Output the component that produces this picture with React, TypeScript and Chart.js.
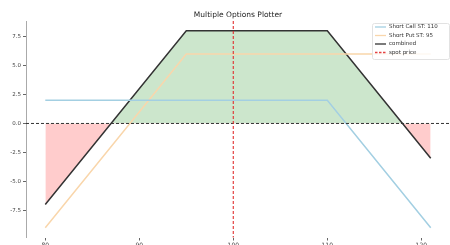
import React, { useEffect, useRef } from "react";
import { Chart, registerables } from "chart.js";

Chart.register(...registerables);

// ---- data ----
const prices = [80, 95, 110, 121];
const shortCall = [2, 2, 2, -9];
const shortPut = [-9, 6, 6, 6];
const combined = [-7, 8, 8, -3];
const spotPrice = 100;
const xTicks = [80, 90, 100, 110, 120];
const yTicks = [-7.5, -5, -2.5, 0, 2.5, 5, 7.5];
const seriesNames = ["Short Call ST: 110", "Short Put ST: 95", "combined", "spot price"];
const titleText = "Multiple Options Plotter";

const FONT = "'DejaVu Sans', sans-serif";
const SPOT_COLOR = "rgba(225,45,45,0.9)";

const overlayPlugin = {
  id: "overlay",
  afterDatasetsDraw(chart: any) {
    const { ctx, chartArea, scales } = chart;
    const y0 = scales.y.getPixelForValue(0);
    const xs = scales.x.getPixelForValue(spotPrice);
    ctx.save();
    // zero line
    ctx.strokeStyle = "#333";
    ctx.lineWidth = 1;
    ctx.setLineDash([3, 2]);
    ctx.beginPath();
    ctx.moveTo(chartArea.left, y0);
    ctx.lineTo(chartArea.right, y0);
    ctx.stroke();
    // spot line
    ctx.strokeStyle = SPOT_COLOR;
    ctx.lineWidth = 1.2;
    ctx.beginPath();
    ctx.moveTo(xs, chartArea.top);
    ctx.lineTo(xs, chartArea.bottom);
    ctx.stroke();
    ctx.restore();
  },
  afterDraw(chart: any) {
    const { ctx, chartArea } = chart;
    ctx.save();
    // title
    ctx.fillStyle = "#222";
    ctx.font = `7.5px ${FONT}`;
    ctx.textAlign = "center";
    ctx.textBaseline = "middle";
    ctx.fillText(titleText, (chartArea.left + chartArea.right) / 2, 15);
    // legend
    const bx = 372, by = 23, bw = 77, bh = 36;
    ctx.fillStyle = "rgba(255,255,255,0.85)";
    ctx.strokeStyle = "#e2e2e2";
    ctx.lineWidth = 1;
    ctx.setLineDash([]);
    ctx.beginPath();
    (ctx as any).roundRect(bx + 0.5, by + 0.5, bw, bh, 2);
    ctx.fill();
    ctx.stroke();
    const colors = ["#a3cfe2", "#f9d6ab", "#333333", SPOT_COLOR];
    ctx.font = `5.5px ${FONT}`;
    ctx.textAlign = "left";
    ctx.textBaseline = "middle";
    seriesNames.forEach((name, i) => {
      const ry = by + 4 + i * 8.5;
      ctx.strokeStyle = colors[i];
      ctx.lineWidth = 1.3;
      ctx.setLineDash(i === 3 ? [2.5, 1.5] : []);
      ctx.beginPath();
      ctx.moveTo(bx + 3, ry);
      ctx.lineTo(bx + 14, ry);
      ctx.stroke();
      ctx.fillStyle = "#333";
      ctx.fillText(name, bx + 17, ry);
    });
    ctx.restore();
  },
};

export default function App() {
  const ref = useRef<HTMLCanvasElement>(null);
  useEffect(() => {
    document.body.style.margin = "0";
    const pts = (vals: number[]) => prices.map((p, i) => ({ x: p, y: vals[i] }));
    const chart = new Chart(ref.current!, {
      type: "line",
      data: {
        datasets: [
          {
            label: seriesNames[0],
            data: pts(shortCall),
            borderColor: "#a3cfe2",
            borderWidth: 1.5,
            pointRadius: 0,
            fill: false,
          },
          {
            label: seriesNames[1],
            data: pts(shortPut),
            borderColor: "#f9d6ab",
            borderWidth: 1.5,
            pointRadius: 0,
            fill: false,
          },
          {
            label: seriesNames[2],
            data: pts(combined),
            borderColor: "#333333",
            borderWidth: 1.5,
            pointRadius: 0,
            fill: {
              target: { value: 0 },
              above: "rgba(0,128,0,0.2)",
              below: "rgba(255,0,0,0.2)",
            },
          },
        ],
      },
      options: {
        animation: false,
        responsive: false,
        devicePixelRatio: 1,
        layout: { padding: { top: 21, right: 0, left: 0, bottom: 0 } },
        plugins: { legend: { display: false }, title: { display: false }, tooltip: { enabled: false } },
        scales: {
          x: {
            type: "linear",
            min: 77.95,
            max: 123.05,
            afterBuildTicks: (s: any) => {
              s.ticks = xTicks.map((v) => ({ value: v }));
            },
            afterFit: (s: any) => {
              s.height = 7.5;
            },
            border: { display: false },
            grid: { drawOnChartArea: false, tickLength: 3, color: "#666" },
            ticks: { font: { family: FONT, size: 6 }, color: "#444", padding: 1, maxRotation: 0 },
          },
          y: {
            type: "linear",
            min: -9.85,
            max: 8.85,
            afterBuildTicks: (s: any) => {
              s.ticks = yTicks.map((v) => ({ value: v }));
            },
            afterFit: (s: any) => {
              s.width = 26;
            },
            border: { display: true, color: "#aaa" },
            grid: { drawOnChartArea: false, tickLength: 3, color: "#666" },
            ticks: {
              font: { family: FONT, size: 5.5 },
              color: "#444",
              padding: 2,
              callback: (v: any) => Number(v).toFixed(1),
            },
          },
        },
      },
      plugins: [overlayPlugin],
    });
    return () => chart.destroy();
  }, []);
  return (
    <div style={{ width: 450, height: 245 }}>
      <canvas ref={ref} width={450} height={245} />
    </div>
  );
}
